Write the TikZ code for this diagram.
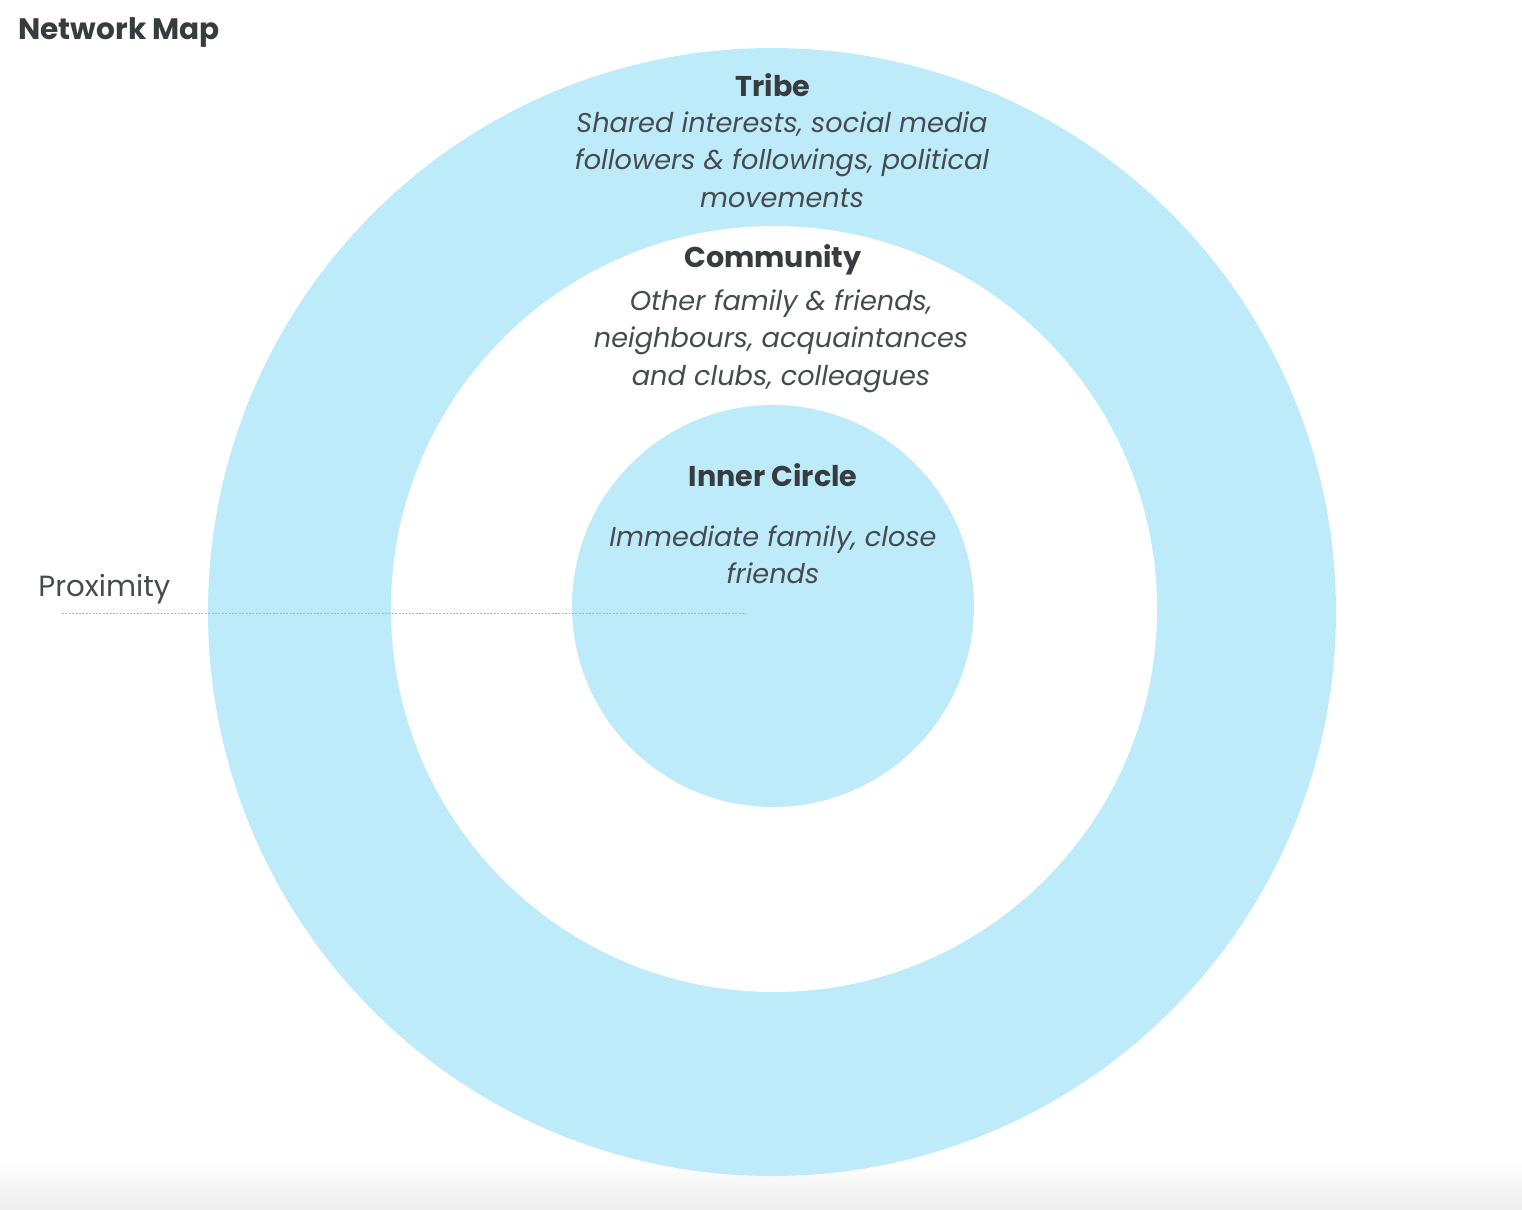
\documentclass[tikz,border=0pt]{standalone}
\usepackage{fontspec}
\setmainfont{Poppins}
\usetikzlibrary{positioning}

\definecolor{ringblue}{RGB}{190,235,250}
\definecolor{headgray}{RGB}{55,60,62}
\definecolor{textgray}{RGB}{70,75,78}

\begin{document}
\begin{tikzpicture}[x=0.5pt, y=-0.5pt, every node/.style={inner sep=0pt}]

% Estilos del mapa
\tikzset{
    ringfill/.style={fill=ringblue, draw=none},
    headlabel/.style={font=\fontsize{14.3}{18}\selectfont\bfseries, text=headgray},
    desclabel/.style={font=\fontsize{13.6}{18.8}\selectfont\itshape, text=textgray, align=center},
    proxline/.style={gray!60, line width=0.4pt, dash pattern=on 1pt off 0.7pt}
}

\useasboundingbox (0,0) rectangle (1522,1210);

% franja inferior de la captura
\shade[top color=white, bottom color=black!7] (0,1160) rectangle (1522,1210);

% =============================================
% ANILLOS
% =============================================
\fill[ringfill] (772,612) circle (282pt);
\fill[white] (774,609) circle (191.5pt);
\fill[ringfill] (773,606) circle (100.5pt);

% =============================================
% TITULO Y PROXIMIDAD
% =============================================
\node[anchor=west, font=\fontsize{14.8}{18}\selectfont\bfseries, text=headgray] (title) at (18,32) {Network Map};

\node[anchor=west, font=\fontsize{14.6}{18}\selectfont, text=textgray] (prox) at (38,589) {Proximity};
\coordinate (proxstart) at (62,613);
\coordinate (proxend) at (746,613);
\draw[proxline] (proxstart) -- (proxend);

% =============================================
% TRIBE
% =============================================
\node[headlabel] (tribe) at (773,85) {Tribe};
\node[desclabel, anchor=north] (tribedesc) at (782,111) {Shared interests, social media\\followers \& followings, political\\movements};

% =============================================
% COMMUNITY
% =============================================
\node[headlabel] (community) at (773,260) {Community};
\node[desclabel, anchor=north] (communitydesc) at (781,289) {Other family \& friends,\\neighbours, acquaintances\\and clubs, colleagues};

% =============================================
% INNER CIRCLE
% =============================================
\node[headlabel] (inner) at (773,475) {Inner Circle};
\node[desclabel, anchor=north] (innerdesc) at (773,525) {Immediate family, close\\friends};

\end{tikzpicture}
\end{document}
